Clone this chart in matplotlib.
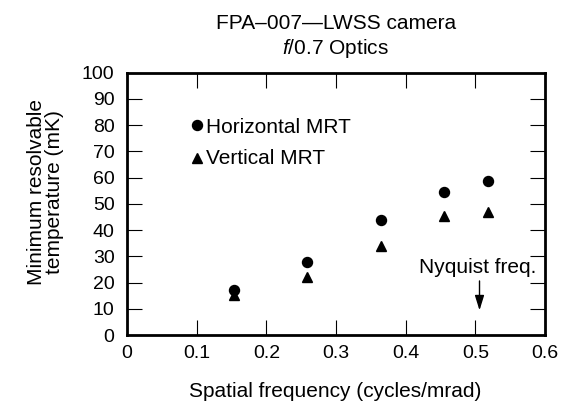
import matplotlib
matplotlib.use("Agg")
import matplotlib.pyplot as plt

plt.rcParams['font.family'] = ['Liberation Sans', 'DejaVu Sans']
plt.rcParams['mathtext.fontset'] = 'custom'
plt.rcParams['mathtext.it'] = 'Liberation Sans:italic'
plt.rcParams['mathtext.rm'] = 'Liberation Sans'

freq = [0.153, 0.258, 0.364, 0.4545, 0.518]
horizontal_mrt = [17.1, 27.9, 43.7, 54.5, 58.6]
vertical_mrt = [15.3, 22.1, 33.8, 45.3, 47.0]
x_ticks = [0, 0.1, 0.2, 0.3, 0.4, 0.5, 0.6]
x_tick_labels = ['0', '0.1', '0.2', '0.3', '0.4', '0.5', '0.6']
y_ticks = [0, 10, 20, 30, 40, 50, 60, 70, 80, 90, 100]
nyquist = 0.506

fig = plt.figure(figsize=(5.65, 4.03), dpi=100)
ax = fig.add_axes([0.2248, 0.1687, 0.7398, 0.6513])

ax.plot(freq, horizontal_mrt, 'o', color='black', markersize=7.2, linestyle='none')
ax.plot(freq, vertical_mrt, '^', color='black', markersize=6.5, linestyle='none')

ax.set_xlim(0, 0.6)
ax.set_ylim(0, 100)
ax.set_xticks(x_ticks)
ax.set_xticklabels(x_tick_labels)
ax.set_yticks(y_ticks)
ax.tick_params(direction='in', length=11, width=0.8, top=True, right=True,
               labelsize=14, colors='black')
ax.tick_params(axis='x', pad=7.5)
ax.tick_params(axis='y', pad=9)
for s in ax.spines.values():
    s.set_linewidth(2)

# legend drawn as markers and text
ax.plot([0.1], [79.9], 'o', color='black', markersize=7.2)
ax.text(0.113, 76.8, 'Horizontal MRT', fontsize=15, va='baseline', ha='left')
ax.plot([0.1], [67.6], '^', color='black', markersize=6.5)
ax.text(0.113, 65.2, 'Vertical MRT', fontsize=15, va='baseline', ha='left')

ax.annotate('', xy=(nyquist, 9.4), xytext=(nyquist, 20.6),
            arrowprops=dict(arrowstyle='-|>,head_length=0.9,head_width=0.28',
                            color='black', lw=1, mutation_scale=10,
                            shrinkA=0, shrinkB=0))
ax.text(0.5035, 23.8, 'Nyquist freq.', fontsize=15, ha='center', va='baseline')

fig.text(0.594, 0.929, 'FPA–007—LWSS camera', fontsize=15, ha='center', va='baseline')
fig.text(0.594, 0.866, '$f$/0.7 Optics', fontsize=15, ha='center', va='baseline')

fig.text(0.0643, 0.524, 'Minimum resolvable', fontsize=15, rotation=90, ha='center', va='center')
fig.text(0.0956, 0.524, 'temperature (mK)', fontsize=15, rotation=90, ha='center', va='center')
fig.text(0.594, 0.0149, 'Spatial frequency (cycles/mrad)', fontsize=15, ha='center', va='baseline')

fig.savefig('out.png', dpi=100)
